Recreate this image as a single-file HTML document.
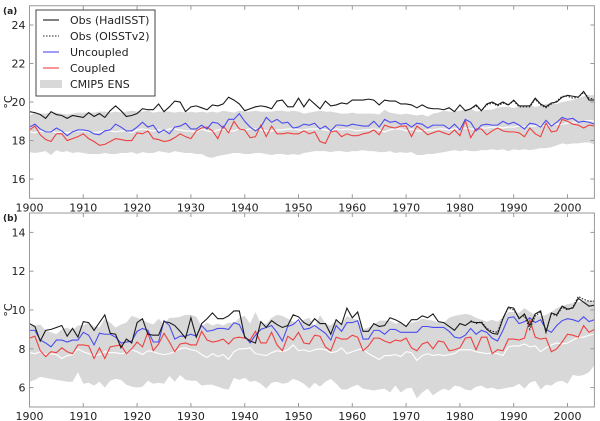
<!DOCTYPE html>
<html><head><meta charset="utf-8"><style>
html,body{margin:0;padding:0;background:#fff;}
svg{display:block;font-family:"DejaVu Sans","Liberation Sans",sans-serif;}
</style></head><body>
<svg id="chart" width="600" height="421" xmlns="http://www.w3.org/2000/svg"></svg>
<script>
const years = []; for (let y = 1900; y <= 2005; y++) years.push(y);
const xTicks = [1900,1910,1920,1930,1940,1950,1960,1970,1980,1990,2000];
const yTicksA = [16,18,20,22,24];
const yTicksB = [6,8,10,12,14];
const oisstYears = []; for (let y = 1982; y <= 2005; y++) oisstYears.push(y);

const obsA = [19.5,19.45,19.35,19.15,19.5,19.35,19.3,19.15,19.3,19.25,19.2,19.45,19.25,19.4,19.2,19.55,19.8,19.55,19.25,19.3,19.4,19.65,19.6,19.6,19.9,19.5,19.75,20.05,20.0,19.5,19.75,19.8,19.7,19.6,19.85,19.8,19.9,20.25,20.1,19.9,19.55,19.65,19.75,19.8,19.75,19.65,20.05,20.1,19.75,19.75,20.2,19.75,20.15,19.9,19.65,20.05,19.8,19.85,19.95,19.9,20.1,20.1,20.1,20.15,20.1,19.85,20.1,20.05,20.05,19.9,19.9,19.85,19.7,19.85,19.7,19.65,19.65,19.6,19.7,19.5,19.85,19.55,19.65,19.85,19.55,19.9,20.0,19.85,20.0,19.85,20.1,19.8,19.8,19.8,20.2,19.9,19.75,19.95,20.0,20.25,20.35,20.3,20.25,20.55,20.1,20.1];
const oisstA = [19.65,19.8,19.55,19.85,19.95,19.8,19.95,19.85,20.05,19.75,19.75,19.75,20.15,19.85,19.7,19.9,20.05,20.3,20.3,20.2,20.25,20.5,20.2,20.15];
const uncA = [18.7,18.85,18.6,18.45,18.45,18.65,18.5,18.25,18.45,18.55,18.55,18.5,18.35,18.3,18.5,18.55,18.85,18.7,18.5,18.5,18.7,18.95,18.7,18.8,18.4,18.55,18.35,18.7,18.75,18.9,18.6,18.6,18.8,18.6,18.95,18.9,18.65,19.1,19.1,19.4,19.0,18.7,18.5,18.7,19.2,18.95,19.1,18.9,18.95,18.65,18.7,18.85,18.8,18.9,18.6,18.75,18.5,18.8,18.8,18.75,18.85,18.8,18.75,18.75,19.0,18.7,19.1,18.95,19.0,18.85,18.9,18.7,18.9,18.85,18.65,18.8,18.8,18.8,18.6,18.85,18.55,19.1,18.95,18.5,18.8,18.85,18.8,18.8,19.0,18.85,18.95,18.8,18.6,18.9,18.85,18.7,19.05,18.75,18.95,19.2,19.1,19.15,18.95,19.0,18.95,18.85];
const cplA = [18.55,18.75,18.3,18.05,17.95,18.35,18.35,18.0,18.1,18.2,18.35,18.1,17.95,17.75,17.8,17.95,18.1,18.05,18.0,18.0,18.4,18.35,18.5,18.1,18.05,17.95,18.0,18.15,18.35,18.2,18.1,18.5,18.65,18.7,18.5,18.1,18.75,18.4,19.0,18.6,18.55,18.15,18.2,18.8,18.2,18.75,18.35,18.35,18.4,18.35,18.35,18.5,18.35,18.45,17.95,17.85,18.45,18.5,18.2,18.35,18.25,18.25,18.35,18.4,18.55,18.3,18.8,18.7,18.65,18.75,18.75,18.2,18.75,18.55,18.3,18.4,18.5,18.4,18.3,18.55,18.25,19.05,18.15,18.6,18.6,18.3,18.5,18.65,18.5,18.45,18.45,18.4,18.2,18.65,18.35,18.2,18.9,18.45,18.5,19.1,19.0,18.85,18.8,18.65,18.8,18.75];
const ensA = [18.45,18.4,18.5,18.45,18.5,18.4,18.45,18.4,18.45,18.5,18.5,18.45,18.4,18.45,18.5,18.5,18.45,18.5,18.5,18.4,18.55,18.6,18.55,18.5,18.55,18.5,18.6,18.6,18.55,18.5,18.5,18.45,18.6,18.5,18.45,18.55,18.6,18.5,18.5,18.6,18.55,18.6,18.6,18.55,18.5,18.5,18.55,18.55,18.6,18.6,18.55,18.55,18.6,18.6,18.6,18.55,18.5,18.6,18.55,18.6,18.55,18.5,18.55,18.55,18.6,18.55,18.45,18.55,18.6,18.6,18.5,18.6,18.5,18.5,18.55,18.55,18.6,18.6,18.55,18.6,18.6,18.65,18.6,18.6,18.65,18.65,18.7,18.7,18.65,18.7,18.7,18.75,18.7,18.75,18.75,18.8,18.75,18.85,18.85,18.85,18.9,18.95,18.95,19.0,19.05,19.0];
const bandUpA = [19.3,19.45,19.4,19.4,19.45,19.45,19.4,19.35,19.4,19.45,19.45,19.45,19.45,19.5,19.5,19.45,19.5,19.45,19.5,19.55,19.5,19.5,19.55,19.45,19.5,19.5,19.5,19.45,19.5,19.45,19.5,19.45,19.5,19.45,19.5,19.45,19.55,19.5,19.45,19.55,19.5,19.5,19.55,19.5,19.5,19.5,19.55,19.55,19.5,19.55,19.5,19.4,19.45,19.5,19.55,19.5,19.5,19.45,19.4,19.4,19.45,19.4,19.4,19.4,19.4,19.35,19.6,19.45,19.4,19.35,19.4,19.35,19.3,19.35,19.25,19.4,19.45,19.55,19.5,19.5,19.55,19.6,19.65,19.5,19.55,19.6,19.6,19.7,19.75,19.75,19.7,19.75,19.8,19.85,19.75,19.8,19.9,19.95,19.9,20.0,20.05,20.1,20.2,20.3,20.35,20.35];
const bandLoA = [17.4,17.35,17.4,17.45,17.25,17.5,17.4,17.45,17.35,17.4,17.35,17.3,17.3,17.3,17.35,17.3,17.3,17.35,17.35,17.4,17.3,17.4,17.35,17.35,17.45,17.4,17.35,17.45,17.4,17.35,17.35,17.3,17.3,17.15,17.1,17.2,17.25,17.3,17.35,17.35,17.3,17.3,17.35,17.35,17.3,17.25,17.3,17.3,17.25,17.3,17.25,17.35,17.4,17.45,17.45,17.45,17.4,17.45,17.45,17.4,17.45,17.45,17.5,17.45,17.45,17.4,17.4,17.45,17.35,17.4,17.35,17.4,17.25,17.25,17.3,17.3,17.35,17.4,17.45,17.5,17.45,17.5,17.45,17.45,17.5,17.5,17.55,17.5,17.55,17.45,17.55,17.5,17.55,17.5,17.55,17.6,17.6,17.65,17.75,17.85,17.8,17.85,17.85,17.9,17.9,17.8];

const obsB = [9.3,9.15,8.4,8.95,9.0,9.1,9.2,8.65,9.05,8.6,9.4,9.35,8.95,9.35,9.75,8.8,8.75,8.05,8.5,8.3,9.35,9.55,8.75,8.7,8.7,9.4,9.35,9.2,8.9,8.55,9.6,8.6,9.3,9.55,9.85,9.55,9.55,9.7,9.95,9.95,8.6,8.4,8.3,9.4,9.1,9.45,9.25,9.1,9.2,9.75,9.65,9.35,9.2,9.55,9.3,9.3,8.75,9.5,9.25,10.1,9.6,9.9,8.9,8.9,9.3,9.15,9.2,9.6,9.5,9.35,9.15,9.5,9.5,9.7,9.6,9.8,9.4,9.35,9.15,8.95,9.3,9.2,9.4,9.35,9.35,9.0,8.8,8.75,9.55,10.15,10.1,9.55,9.8,9.2,9.8,9.95,8.85,9.85,9.75,10.2,10.05,10.1,10.6,10.4,10.2,10.25];
const oisstB = [9.45,9.3,9.4,9.05,8.9,8.85,9.6,10.1,10.0,9.6,9.7,9.0,9.7,9.9,8.9,9.8,9.7,10.15,10.0,10.15,10.7,10.55,10.45,10.45];
const uncB = [8.95,8.95,8.45,8.3,8.1,8.45,8.45,8.35,8.45,8.45,8.85,8.7,8.2,8.8,8.75,8.75,8.6,8.3,8.35,8.4,8.9,9.05,8.95,8.35,8.35,9.45,9.2,8.5,8.65,8.65,8.75,8.65,9.2,8.9,8.95,9.05,9.05,9.0,9.35,9.25,8.65,8.3,8.7,9.0,9.1,9.2,8.85,8.4,9.15,9.25,9.5,9.0,9.05,9.2,9.0,8.8,8.45,9.2,8.9,9.35,9.35,9.45,8.5,8.5,8.95,8.95,8.75,9.0,9.0,8.85,8.85,8.85,8.85,9.15,9.15,9.1,9.1,9.1,8.9,8.6,8.55,8.7,9.05,8.75,8.95,8.85,8.55,8.4,8.95,9.6,9.65,9.3,9.4,9.6,9.35,9.5,9.0,8.85,9.2,9.45,9.55,9.5,9.4,9.65,9.4,9.5];
const cplB = [8.55,8.65,7.9,7.6,7.85,7.8,8.05,7.85,7.75,8.2,8.2,8.15,7.5,8.05,7.5,8.1,8.15,8.2,7.75,8.0,8.35,8.1,8.85,7.9,8.25,8.8,8.35,7.85,8.25,8.3,8.2,8.2,8.9,8.45,8.35,8.4,8.5,8.25,8.55,8.6,8.55,8.45,8.9,8.3,8.3,8.85,8.2,7.9,8.65,8.45,8.85,8.3,8.25,8.7,8.65,8.1,7.9,8.6,8.5,8.5,8.7,8.6,7.9,8.15,8.55,8.55,8.4,8.3,8.45,8.4,8.55,8.05,7.9,8.25,8.35,8.0,8.4,8.35,7.9,7.95,8.05,8.55,8.6,7.95,8.6,8.6,7.75,7.95,7.9,8.5,8.5,8.45,8.55,9.5,8.6,8.5,8.55,7.85,8.0,8.35,8.75,8.7,8.6,9.2,8.85,9.0];
const ensB = [7.8,7.75,7.85,7.7,7.75,7.7,7.5,7.65,7.7,8.0,7.85,7.75,7.65,7.7,7.85,7.8,7.8,7.75,7.8,7.95,7.85,7.7,7.9,7.85,7.75,7.7,7.75,7.85,8.0,8.05,7.95,7.9,7.7,7.55,7.75,7.6,7.7,7.45,7.85,8.0,8.0,8.05,7.75,7.7,7.65,7.8,7.9,7.85,7.95,8.2,7.9,7.95,7.85,7.95,8.0,7.95,7.8,7.85,8.05,7.75,7.85,7.95,8.0,7.75,7.6,7.45,7.65,7.65,7.7,7.6,7.85,7.8,7.4,7.65,7.75,7.65,7.7,7.65,7.7,7.75,7.95,7.95,7.95,7.85,7.8,7.75,7.8,7.75,7.65,8.1,8.15,8.15,8.25,8.1,8.15,7.85,8.05,8.2,8.3,8.25,8.3,8.45,8.6,8.6,8.7,8.75];
const bandUpB = [9.2,9.2,9.25,8.95,8.85,8.75,9.0,9.1,8.95,9.2,9.2,9.35,9.15,9.1,9.55,9.35,9.1,9.25,9.35,9.7,9.6,9.5,9.35,9.25,9.55,9.25,9.6,9.6,9.65,9.75,9.75,9.65,9.15,9.35,9.2,9.3,9.2,9.35,9.3,9.6,9.7,9.3,9.9,9.3,9.3,9.6,9.75,9.7,9.55,9.4,9.35,9.5,9.6,9.1,9.75,9.3,9.2,9.45,9.3,9.7,9.55,9.5,9.0,9.1,9.25,9.45,9.45,9.45,9.3,9.35,9.2,9.35,9.4,9.55,9.5,9.45,9.35,9.35,9.6,9.7,9.75,9.8,9.75,9.6,9.5,9.4,9.5,9.4,9.6,9.9,9.9,9.85,10.1,9.9,9.75,9.7,9.75,9.9,10.1,10.2,10.3,10.35,10.4,10.45,10.5,10.5];
const bandLoB = [6.3,6.4,6.55,6.5,6.45,6.4,6.35,6.3,6.3,6.8,6.2,6.25,6.1,6.3,6.0,6.35,6.45,6.4,6.15,6.05,6.0,6.05,6.35,6.2,6.25,6.2,6.6,6.3,6.65,6.4,6.35,6.35,6.1,6.15,6.15,6.05,5.95,5.9,6.5,6.4,6.5,6.3,6.35,6.2,5.95,6.25,6.3,6.2,6.25,6.45,6.35,6.2,5.95,6.25,6.05,6.3,6.45,6.2,5.9,5.9,6.05,6.15,5.95,5.9,5.85,5.9,5.95,5.75,6.1,5.75,5.95,6.0,5.45,5.75,5.95,5.6,5.8,5.95,5.85,6.1,6.05,5.9,5.85,6.05,6.1,5.95,6.0,5.9,5.95,6.0,6.05,6.2,5.95,6.25,6.35,5.9,6.15,6.1,6.3,6.35,6.2,6.65,6.6,6.65,6.8,7.15];

const svg = document.getElementById('chart');
const NS = 'http://www.w3.org/2000/svg';
function mk(tag, attrs, parent) {
  const e = document.createElementNS(NS, tag);
  for (const k in attrs) e.setAttribute(k, attrs[k]);
  (parent || svg).appendChild(e);
  return e;
}
const X0 = 29.5, X1 = 594.4;
function xs(yr) { return X0 + (yr - 1900) / 105 * (X1 - X0); }

function panel(p) {
  const ys = v => p.yBot - (v - p.vmin) / (p.vmax - p.vmin) * (p.yBot - p.yTop);
  const g = mk('g', {});
  
  
  // band
  let d = '';
  years.forEach((yr, i) => { d += (i ? 'L' : 'M') + xs(yr).toFixed(2) + ' ' + ys(p.up[i]).toFixed(2); });
  for (let i = years.length - 1; i >= 0; i--) d += 'L' + xs(years[i]).toFixed(2) + ' ' + ys(p.lo[i]).toFixed(2);
  const band = mk('path', { d: d + 'Z', fill: '#d8d8d8', stroke: 'none' }, g);
  
  
  function line(vals, yrs, color, name, dash) {
    const pts = vals.map((v, i) => xs(yrs[i]).toFixed(2) + ',' + ys(v).toFixed(2)).join(' ');
    const l = mk('polyline', { points: pts, fill: 'none', stroke: color, 'stroke-width': 1.1 }, g);
    if (dash) l.setAttribute('stroke-dasharray', dash);
    
    
  }
  line(p.ens, years, '#ffffff', 'ensemble-mean-line');
  line(p.cpl, years, '#ee4040', 'coupled-line');
  line(p.unc, years, '#4c4cf0', 'uncoupled-line');
  line(p.ois, oisstYears, '#222', 'obs-oisstv2-line', '1.5,1.5');
  line(p.obs, years, '#1a1a1a', 'obs-hadisst-line');
  // frame
  const fr = mk('rect', { x: X0, y: p.yTop, width: X1 - X0, height: p.yBot - p.yTop, fill: 'none', stroke: '#999', 'stroke-width': 1 }, g);
  
  
  p.yticks.forEach(v => {
    const y = ys(v);
    mk('line', { x1: X0, x2: X0 + 4, y1: y, y2: y, stroke: '#999' }, g);
    mk('line', { x1: X1, x2: X1 - 4, y1: y, y2: y, stroke: '#999' }, g);
    const t = mk('text', { x: X0 - 4, y: y + 4, 'text-anchor': 'end', 'font-size': 11, fill: '#222' }, g);
    t.textContent = v;
    
    
  });
  xTicks.forEach(yr => {
    const x = xs(yr);
    mk('line', { x1: x, x2: x, y1: p.yBot, y2: p.yBot - 4, stroke: '#999' }, g);
    mk('line', { x1: x, x2: x, y1: p.yTop, y2: p.yTop + 4, stroke: '#999' }, g);
    const t = mk('text', { x: x, y: p.yBot + 13, 'text-anchor': 'middle', 'font-size': 11, fill: '#222' }, g);
    t.textContent = yr;
    
    
  });
  const yl = mk('text', { x: 0, y: 0, transform: `translate(12,${(p.yTop + p.yBot) / 2}) rotate(-90)`, 'text-anchor': 'middle', 'font-size': 11, fill: '#222' }, g);
  yl.textContent = '°C';
  
  
  const pl = mk('text', { x: 3, y: p.yTop + 8, 'font-size': 9, 'font-weight': 'bold', fill: '#222' }, g);
  pl.textContent = p.label;
  
  
}

panel({ name: 'panel-a', label: '(a)', yTop: 5.75, yBot: 198.3, vmin: 15, vmax: 25, yticks: yTicksA,
  obs: obsA, ois: oisstA, unc: uncA, cpl: cplA, ens: ensA, up: bandUpA, lo: bandLoA });
panel({ name: 'panel-b', label: '(b)', yTop: 213, yBot: 407, vmin: 5, vmax: 15, yticks: yTicksB,
  obs: obsB, ois: oisstB, unc: uncB, cpl: cplB, ens: ensB, up: bandUpB, lo: bandLoB });

// legend
const lg = mk('g', {});


mk('rect', { x: 36, y: 10, width: 119, height: 86, fill: '#fff', stroke: '#444', 'stroke-width': 1 }, lg);
const entries = [
  ['Obs (HadISST)', '#1a1a1a', null, 'line'],
  ['Obs (OISSTv2)', '#222', '1.5,1.5', 'line'],
  ['Uncoupled', '#4c4cf0', null, 'line'],
  ['Coupled', '#ee4040', null, 'line'],
  ['CMIP5 ENS', '#d8d8d8', null, 'patch']
];
entries.forEach((e, i) => {
  const y = 20 + i * 16;
  const eg = mk('g', {}, lg);
  
  
  if (e[3] === 'patch') mk('rect', { x: 40, y: y - 4, width: 22, height: 8, fill: e[1] }, eg);
  else {
    const l = mk('line', { x1: 43, x2: 59, y1: y, y2: y, stroke: e[1], 'stroke-width': 1.1 }, eg);
    if (e[2]) l.setAttribute('stroke-dasharray', e[2]);
  }
  const t = mk('text', { x: 70, y: y + 4, 'font-size': 11, fill: '#222' }, eg);
  t.textContent = e[0];
});
</script>
</body></html>
